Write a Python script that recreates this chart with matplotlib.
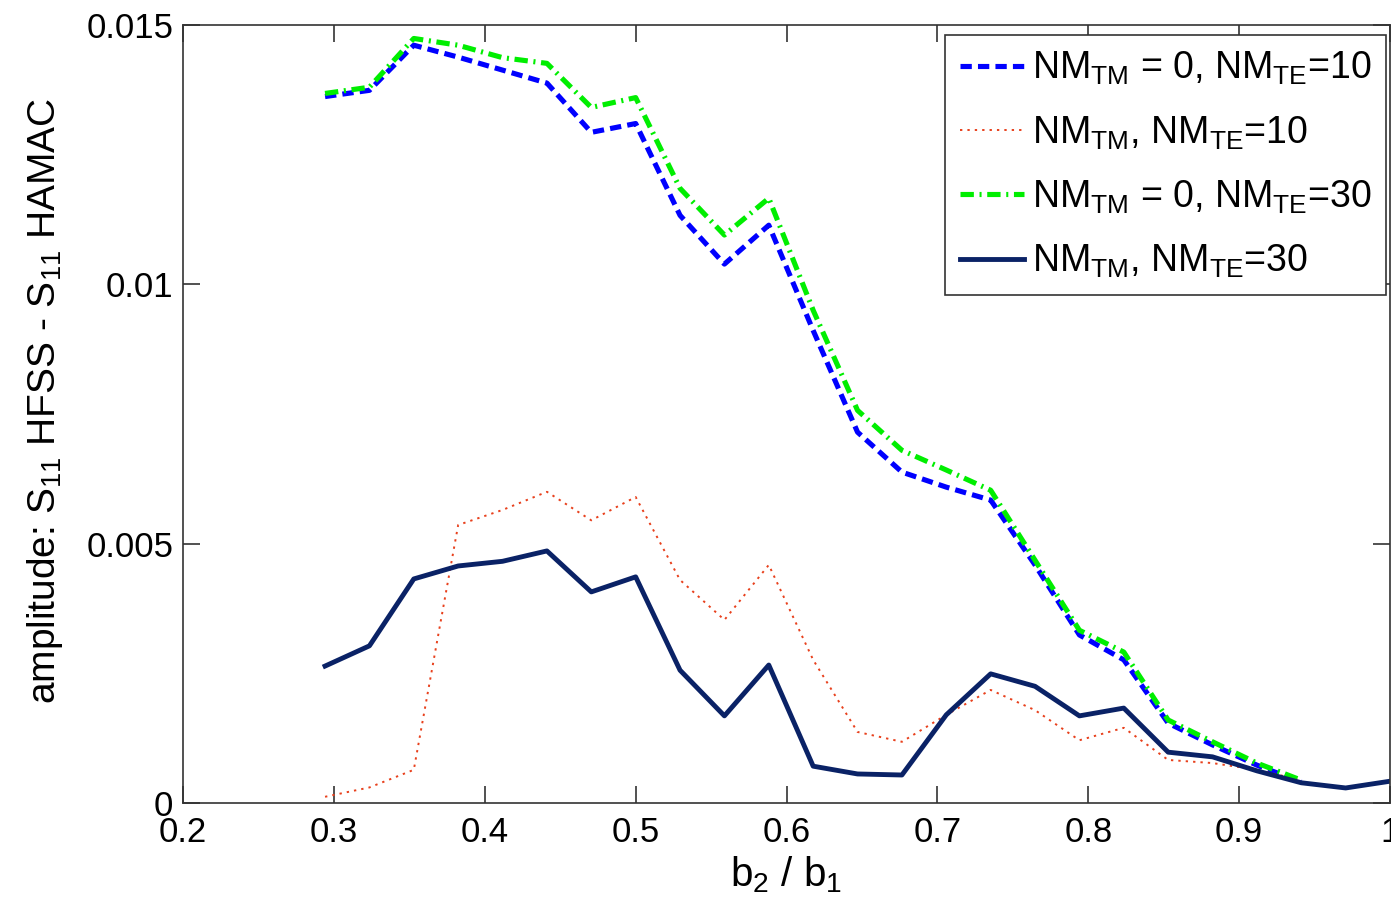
import numpy as np
import matplotlib
matplotlib.use("Agg")
import matplotlib.pyplot as plt

plt.rcParams['font.family'] = ['Liberation Sans', 'DejaVu Sans']
plt.rcParams['mathtext.default'] = 'regular'

# x = b2/b1 (k/34)
x_full = [k / 34 for k in range(10, 35)]
x_part = x_full[:23]

nm0_te10 = [0.01362, 0.01374, 0.01461, 0.01438, 0.01413, 0.01388, 0.01293, 0.01310,
            0.01133, 0.01039, 0.01114, 0.00911, 0.00715, 0.00638, 0.00609, 0.00584,
            0.00459, 0.00324, 0.00276, 0.00154, 0.00112, 0.00073, 0.00040]
nm_te10 = [0.00012, 0.00030, 0.00064, 0.00536, 0.00565, 0.00600, 0.00545, 0.00590,
           0.00430, 0.00353, 0.00459, 0.00276, 0.00137, 0.00118, 0.00170, 0.00218,
           0.00179, 0.00121, 0.00145, 0.00083, 0.00077, 0.00064, 0.00044]
nm0_te30 = [0.01368, 0.01380, 0.01474, 0.01461, 0.01437, 0.01426, 0.01341, 0.01360,
            0.01185, 0.01095, 0.01166, 0.00950, 0.00757, 0.00680, 0.00642, 0.00603,
            0.00468, 0.00333, 0.00291, 0.00160, 0.00118, 0.00077, 0.00044]
nm_te30 = [0.00264, 0.00303, 0.00432, 0.00457, 0.00466, 0.00486, 0.00407, 0.00436,
           0.00256, 0.00168, 0.00266, 0.00071, 0.00056, 0.00054, 0.00170, 0.00249,
           0.00225, 0.00168, 0.00183, 0.00098, 0.00089, 0.00062, 0.00039, 0.00029,
           0.00042]

labels = ['NM$_{TM}$ = 0, NM$_{TE}$=10', 'NM$_{TM}$, NM$_{TE}$=10',
          'NM$_{TM}$ = 0, NM$_{TE}$=30', 'NM$_{TM}$, NM$_{TE}$=30']
xticks = [0.2, 0.3, 0.4, 0.5, 0.6, 0.7, 0.8, 0.9, 1.0]
xticklabels = ['0.2', '0.3', '0.4', '0.5', '0.6', '0.7', '0.8', '0.9', '1']
yticks = [0, 0.005, 0.01, 0.015]
yticklabels = ['0', '0.005', '0.01', '0.015']

fig = plt.figure(figsize=(13.91, 9.05), dpi=100)
ax = fig.add_axes([0.1316, 0.1127, 0.8677, 0.8597])

ax.plot(x_part, nm0_te10, color='#0000ff', lw=3.7, ls=(0, (2.2, 1.2)), label=labels[0])
ax.plot(x_part, nm_te10, color='#e8401c', lw=1.4, ls=(0, (1.2, 2.6)), label=labels[1])
ax.plot(x_part, nm0_te30, color='#00ee00', lw=3.7, ls=(0, (2.6, 1.1, 0.4, 1.1)), label=labels[2])
ax.plot(x_full, nm_te30, color='#0a2266', lw=3.5, ls='-', label=labels[3])

ax.set_xlim(0.2, 1.0)
ax.set_ylim(0, 0.015)
ax.set_xticks(xticks)
ax.set_xticklabels(xticklabels)
ax.set_yticks(yticks)
ax.set_yticklabels(yticklabels)
ax.tick_params(direction='in', length=12, width=1.2, top=True, right=True,
               labelsize=25, color='#333333')
ax.tick_params(axis='x', pad=9)
ax.tick_params(axis='y', pad=7)
for s in ax.spines.values():
    s.set_linewidth(1.2)
    s.set_color('#333333')

ax.set_xlabel('b$_2$ / b$_1$', fontsize=29, labelpad=4)
ax.set_ylabel('amplitude: S$_{11}$ HFSS - S$_{11}$ HAMAC', fontsize=28)
ax.yaxis.set_label_coords(-0.098, 0.517)

leg = ax.legend(loc='upper right', bbox_to_anchor=(0.9967, 0.9871), fontsize=27,
                handlelength=1.7, handletextpad=0.2, labelspacing=0.72,
                borderpad=0.4, borderaxespad=0.0,
                fancybox=False, framealpha=1, edgecolor='#333333')
leg.get_frame().set_linewidth(1.2)

fig.savefig('out.png', dpi=100)
